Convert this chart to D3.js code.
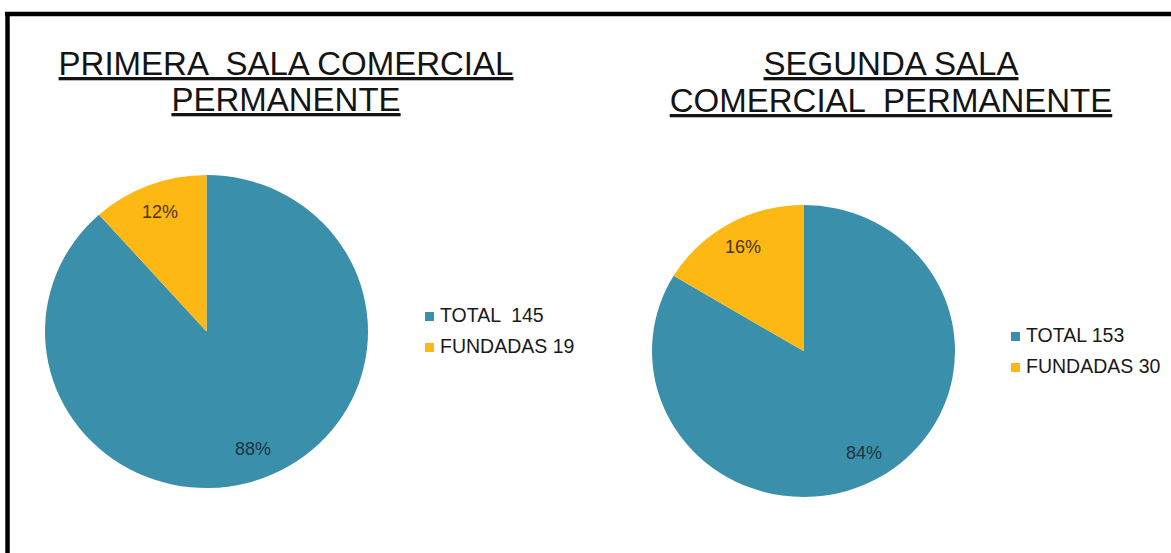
<!DOCTYPE html>
<html>
<head>
<meta charset="utf-8">
<script src="https://cdn.jsdelivr.net/npm/d3@7"></script>
<style>
  html, body { margin: 0; padding: 0; background: #fff; }
  svg { display: block; font-family: "Liberation Sans", Arial, sans-serif; }
</style>
</head>
<body>
<svg id="chart" width="1171" height="553"></svg>
<script>
// Complaint counts per chamber
const categories = ["TOTAL", "FUNDADAS"];
const primeraValues = [145, 19];
const segundaValues = [153, 30];
const primeraTitle = ["PRIMERA  SALA COMERCIAL", "PERMANENTE"];
const segundaTitle = ["SEGUNDA SALA", "COMERCIAL  PERMANENTE"];
const primeraLegend = ["TOTAL  145", "FUNDADAS 19"];
const segundaLegend = ["TOTAL 153", "FUNDADAS 30"];

const colors = d3.scaleOrdinal().domain(categories).range(["#3a90aa", "#fdb813"]);

const svg = d3.select("#chart");

// Frame: heavy rule along the top and left edges
svg.append("line").attr("x1", 7.5).attr("x2", 7.5).attr("y1", 12).attr("y2", 553)
  .attr("stroke", "#000").attr("stroke-width", 4.5);
svg.append("line").attr("x1", 5).attr("x2", 1171).attr("y1", 14).attr("y2", 14)
  .attr("stroke", "#000").attr("stroke-width", 4.5);

const pie = d3.pie().sort(null).value(d => d.value);

function drawPanel(cfg) {
  const data = categories.map((c, i) => ({ key: c, value: cfg.values[i] }));
  const total = d3.sum(cfg.values);
  const arcs = pie(data);
  const r = cfg.rx;
  const sy = cfg.ry / cfg.rx;

  // Title, underlined, two centred lines
  const title = svg.append("text")
    .attr("text-anchor", "middle")
    .attr("font-size", 33)
    .attr("fill", "#141414")
    .style("white-space", "pre")
    .style("text-decoration", "underline");
  cfg.title.forEach((line, i) => {
    title.append("tspan")
      .attr("x", cfg.titleX)
      .attr("y", cfg.titleY[i])
      .text(line);
  });

  // Slices
  const arc = d3.arc().innerRadius(0).outerRadius(r);
  svg.append("g")
    .attr("transform", `translate(${cfg.cx},${cfg.cy}) scale(1,${sy})`)
    .selectAll("path")
    .data(arcs)
    .join("path")
    .attr("d", arc)
    .attr("fill", d => colors(d.data.key));

  // Percentage labels
  const labelArc = d3.arc().innerRadius(r * 0.81).outerRadius(r * 0.81);
  svg.append("g")
    .selectAll("text")
    .data(arcs)
    .join("text")
    .attr("x", d => cfg.cx + labelArc.centroid(d)[0])
    .attr("y", d => cfg.cy + labelArc.centroid(d)[1] * sy)
    .attr("dy", "0.3em")
    .attr("text-anchor", "middle")
    .attr("font-size", 18)
    .attr("fill", d => d.data.key === "TOTAL" ? "#1f3442" : "#4a3410")
    .text(d => Math.round(d.data.value / total * 100) + "%");

  // Legend
  const legend = svg.append("g")
    .attr("transform", `translate(${cfg.legendX},${cfg.legendY})`);
  const rows = legend.selectAll("g")
    .data(categories)
    .join("g")
    .attr("transform", (d, i) => `translate(0,${i * 31})`);
  rows.append("rect")
    .attr("x", 0).attr("y", -10)
    .attr("width", 9).attr("height", 9)
    .attr("fill", d => colors(d));
  rows.append("text")
    .attr("x", 15).attr("y", 0)
    .attr("font-size", 19.5)
    .attr("fill", "#1a1a1a")
    .style("white-space", "pre")
    .text((d, i) => cfg.legend[i]);
}

drawPanel({
  values: primeraValues, title: primeraTitle, legend: primeraLegend,
  titleX: 286, titleY: [75, 111],
  cx: 206.5, cy: 331.5, rx: 161.5, ry: 156.5,
  legendX: 425, legendY: 322
});

drawPanel({
  values: segundaValues, title: segundaTitle, legend: segundaLegend,
  titleX: 891, titleY: [75, 112],
  cx: 803.5, cy: 351, rx: 151.5, ry: 146,
  legendX: 1011, legendY: 342
});
</script>
</body>
</html>
